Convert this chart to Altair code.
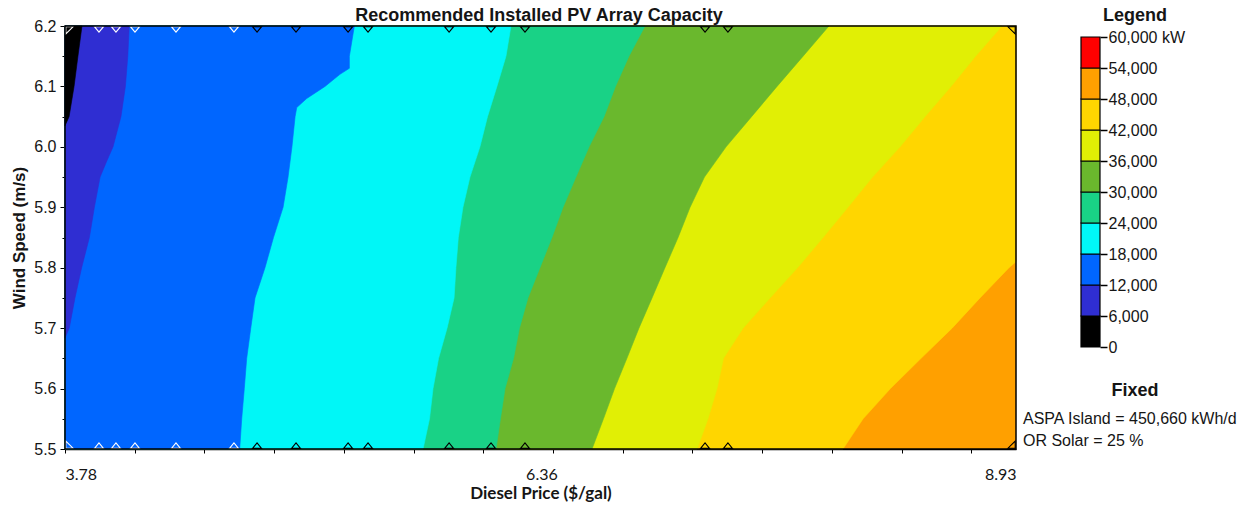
import altair as alt
import pandas as pd

# ---------------------------------------------------------------------------
# Contour boundaries: diesel price ($/gal) at which the recommended PV capacity
# crosses each 6,000 kW level, for a range of wind speeds (m/s).
# ---------------------------------------------------------------------------
wind_grid = [6.20, 6.15, 6.10, 6.05, 6.00, 5.95, 5.90, 5.85, 5.80, 5.75, 5.70, 5.65, 5.60, 5.55, 5.50]

wind_06k = [6.20, 6.15, 6.10, 6.05, 6.035]
price_06k = [3.872, 3.850, 3.829, 3.802, 3.780]

wind_12k = [6.20, 6.15, 6.10, 6.05, 6.00, 5.975, 5.95, 5.90, 5.85, 5.80, 5.75, 5.70, 5.684]
price_12k = [4.128, 4.120, 4.107, 4.083, 4.040, 4.004, 3.970, 3.939, 3.912, 3.870, 3.834, 3.803, 3.780]

wind_18k = [6.20, 6.15, 6.13, 6.12, 6.10, 6.08, 6.065, 6.05, 6.00, 5.95, 5.90, 5.85, 5.80,
            5.75, 5.70, 5.65, 5.60, 5.55, 5.50]
price_18k = [5.347, 5.320, 5.320, 5.269, 5.188, 5.089, 5.035, 5.026, 5.009, 4.988, 4.961, 4.909,
             4.863, 4.809, 4.786, 4.764, 4.751, 4.737, 4.726]

price_24k = [6.195, 6.168, 6.119, 6.068, 6.027, 5.973, 5.935, 5.910, 5.897, 5.887, 5.849, 5.803,
             5.773, 5.754, 5.719]
price_30k = [6.921, 6.834, 6.761, 6.699, 6.618, 6.547, 6.477, 6.417, 6.352, 6.287, 6.241, 6.209,
             6.163, 6.138, 6.114]
price_36k = [7.917, 7.777, 7.636, 7.498, 7.360, 7.243, 7.165, 7.100, 7.029, 6.959, 6.888, 6.823,
             6.756, 6.696, 6.634]
price_42k = [8.854, 8.711, 8.578, 8.437, 8.302, 8.153, 8.020, 7.885, 7.747, 7.598, 7.452, 7.346,
             7.311, 7.262, 7.203]

wind_48k = [6.20, 5.81, 5.80, 5.75, 5.70, 5.65, 5.60, 5.55, 5.50]
price_48k = [8.930, 8.930, 8.892, 8.735, 8.584, 8.416, 8.250, 8.102, 7.993]

# Colour bands, 0 kW .. 60,000 kW in 6,000 kW steps
legend_bounds = [0, 6000, 12000, 18000, 24000, 30000, 36000, 42000, 48000, 54000, 60000]
band_colors = ["#000000", "#2f2ed2", "#0066ff", "#00f7f7", "#19d286",
               "#6ab82d", "#e1ef05", "#ffd600", "#ffa000", "#ff0000"]

# Sensitivity cases along the diesel price axis
sens_prices = [3.964, 4.056, 4.159, 4.381, 4.695, 4.820, 5.031, 5.313, 5.421,
               5.860, 6.087, 6.271, 7.246, 7.370]

# Axis ticks
x_ticks = [3.78, 4.158, 4.535, 4.913, 5.290, 5.668, 6.045, 6.423, 6.800, 7.178,
           7.555, 7.933, 8.310, 8.688]
x_labels = [3.78, 6.36, 8.93]
y_ticks = [5.50, 5.55, 5.60, 5.65, 5.70, 5.75, 5.80, 5.85, 5.90, 5.95, 6.00, 6.05, 6.10, 6.15, 6.20]

price_min, price_max = 3.78, 8.93
wind_min, wind_max = 5.5, 6.2

PLOT_W, PLOT_H = 951, 423
SANS = "Liberation Sans"
HUM = "Lato"
INK = "#151515"

x_scale = alt.Scale(domain=[price_min, price_max], nice=False, zero=False)
y_scale = alt.Scale(domain=[wind_min, wind_max], nice=False, zero=False)

x_axis = alt.Axis(
    values=x_ticks + [6.36, 8.93],
    title="Diesel Price ($/gal)",
    labelExpr="(datum.value == 3.78 || datum.value == 6.36 || datum.value == 8.93) ? format(datum.value, '.2f') : ''",
    labelFlush=True, labelOverlap=False,
    tickSize=4, tickWidth=1, tickColor="black",
    tickOpacity={"condition": {"test": "datum.value == 6.36 || datum.value == 8.93", "value": 0}, "value": 1},
    domainColor="black", domainWidth=1.5,
    labelFont=HUM, labelFontSize=16, labelColor=INK, labelPadding=13,
    titleFont=HUM, titleFontSize=17, titleFontWeight="bold", titleColor=INK, titlePadding=3,
    grid=False,
)
y_axis = alt.Axis(
    values=y_ticks,
    title="Wind Speed (m/s)",
    labelExpr="abs(datum.value * 10 - round(datum.value * 10)) < 0.001 ? format(datum.value, '.1f') : ''",
    labelOverlap=False,
    tickSize={"condition": {"test": "abs(datum.value * 10 - round(datum.value * 10)) < 0.001", "value": 5}, "value": 3},
    tickWidth=1, tickColor="black",
    domainColor="black", domainWidth=1.5,
    labelFont=SANS, labelFontSize=16, labelColor=INK, labelPadding=4,
    titleFont=SANS, titleFontSize=17, titleFontWeight="bold", titleColor=INK, titlePadding=5,
    grid=False,
)


def xenc(field="price:Q"):
    return alt.X(field, scale=x_scale, axis=x_axis)


def yenc(field="wind:Q"):
    return alt.Y(field, scale=y_scale, axis=y_axis)


# Highest band present fills the whole plot first
background = alt.Chart(alt.Data(values=[{}])).mark_rect(color=band_colors[8]).encode(
    x=alt.X(datum=price_min, scale=x_scale, axis=x_axis),
    x2=alt.datum(price_max),
    y=alt.Y(datum=wind_min, scale=y_scale, axis=y_axis),
    y2=alt.datum(wind_max),
)

boundaries = [
    (wind_06k, price_06k),
    (wind_12k, price_12k),
    (wind_18k, price_18k),
    (wind_grid, price_24k),
    (wind_grid, price_30k),
    (wind_grid, price_36k),
    (wind_grid, price_42k),
    (wind_48k, price_48k),
]

# Paint from the highest level down: region left of each boundary is below that level
contour_layers = []
for k in range(len(boundaries) - 1, -1, -1):
    winds, prices = boundaries[k]
    df = pd.DataFrame({"wind": winds, "price": prices})
    contour_layers.append(
        alt.Chart(df).mark_area(orient="horizontal", interpolate="linear",
                                color=band_colors[k], stroke=band_colors[k], strokeWidth=0.6)
        .encode(y=yenc(), x=xenc(), x2=alt.datum(price_min))
    )

# Sensitivity-case markers along the top and bottom edges
marker_color = alt.condition("datum.price < 4.75", alt.value("white"), alt.value("black"))
sens_df = pd.DataFrame({"price": sens_prices})
top_marks = alt.Chart(sens_df).mark_point(
    shape="M -1 0.15 L 1 0.15 L 0 1.35 Z", size=81, filled=False, strokeWidth=1.1, opacity=1
).encode(x=xenc(), y=alt.Y(datum=wind_max, scale=y_scale, axis=y_axis), color=marker_color)
bottom_marks = alt.Chart(sens_df).mark_point(
    shape="M -1 -0.15 L 1 -0.15 L 0 -1.35 Z", size=81, filled=False, strokeWidth=1.1, opacity=1
).encode(x=xenc(), y=alt.Y(datum=wind_min, scale=y_scale, axis=y_axis), color=marker_color)

corner_names = ["tl", "tr", "bl", "br"]
corner_df = pd.DataFrame({
    "corner": corner_names,
    "price": [price_min, price_max, price_min, price_max],
    "wind": [wind_max, wind_max, wind_min, wind_min],
})
corner_marks = alt.Chart(corner_df).mark_point(filled=False, size=64, strokeWidth=1.1, opacity=1).encode(
    x=xenc(), y=yenc(),
    shape=alt.Shape("corner:N", legend=None, scale=alt.Scale(
        domain=corner_names,
        range=["M 0.2 0.2 L 2 0.2 L 0.2 2 Z", "M -0.2 0.2 L -2 0.2 L -0.2 2 Z",
               "M 0.2 -0.2 L 2 -0.2 L 0.2 -2 Z", "M -0.2 -0.2 L -2 -0.2 L -0.2 -2 Z"])),
    color=marker_color,
)

frame = alt.Chart(alt.Data(values=[{}])).mark_rect(filled=False, stroke="black", strokeWidth=1.5).encode(
    x=alt.X(datum=price_min, scale=x_scale, axis=x_axis),
    x2=alt.datum(price_max),
    y=alt.Y(datum=wind_min, scale=y_scale, axis=y_axis),
    y2=alt.datum(wind_max),
)

plot = alt.layer(background, *contour_layers, top_marks, bottom_marks, corner_marks, frame)

# Colour-bar legend on its own vertical scale, drawn to the right of the plot
legend_df = pd.DataFrame({
    "lo": legend_bounds[:-1],
    "hi": legend_bounds[1:],
    "band": [str(i) for i in range(len(band_colors))],
})
legend_axis = alt.Axis(
    orient="right", offset=84, values=legend_bounds, title=None,
    labelExpr="datum.value == 60000 ? '60,000 kW' : format(datum.value, ',')",
    labelFont=SANS, labelFontSize=16, labelColor=INK, labelPadding=1,
    tickSize=7, tickWidth=1.5, tickColor="black", domain=False, grid=False, labelOverlap=False,
)
legend_bar = alt.Chart(legend_df).mark_rect(stroke="black", strokeWidth=1.2).encode(
    x=alt.value(1016), x2=alt.value(1035),
    y=alt.Y("lo:Q", scale=alt.Scale(domain=[0, 60000], range=[321, 11], nice=False), axis=legend_axis),
    y2="hi:Q",
    color=alt.Color("band:N", scale=alt.Scale(domain=list(legend_df["band"]), range=band_colors), legend=None),
)


def label(text, x, y, size=16, weight="normal", align="left", font=SANS):
    return alt.Chart(alt.Data(values=[{}])).mark_text(
        text=text, align=align, baseline="alphabetic", font=font, fontSize=size,
        fontWeight=weight, color=INK,
    ).encode(x=alt.value(x), y=alt.value(y))


texts = [
    label("Recommended Installed PV Array Capacity", 474, -5, size=18, weight="bold", align="center"),
    label("Legend", 1070, -5, size=18, weight="bold", align="center"),
    label("Fixed", 1070, 370, size=18, weight="bold", align="center"),
    label("ASPA Island = 450,660 kWh/d", 958, 398),
    label("OR Solar = 25 %", 958, 420),
]

chart = alt.layer(plot, legend_bar, *texts).resolve_scale(y="independent").properties(
    width=PLOT_W, height=PLOT_H,
    autosize=alt.AutoSizeParams(type="none"),
    padding={"left": 65, "top": 26, "right": 239, "bottom": 58},
    background="white",
).configure_view(stroke=None)

chart.save("out.html", embed_options={"renderer": "svg", "actions": False})
